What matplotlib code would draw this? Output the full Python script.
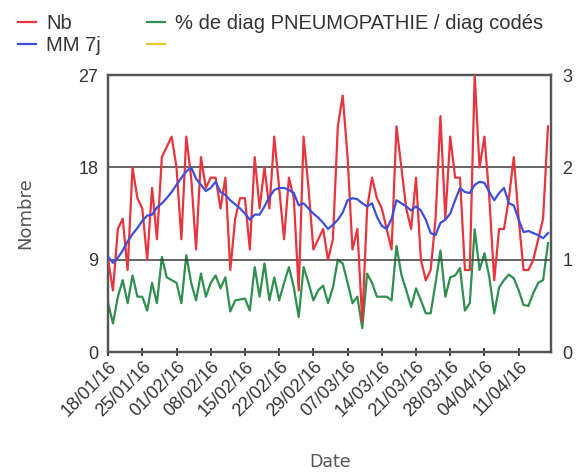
import numpy as np
import pandas as pd
import matplotlib
matplotlib.use("Agg")
import matplotlib.pyplot as plt
import matplotlib.dates as mdates
from matplotlib.lines import Line2D

# daily counts (Nb), 18/01/16 -> 17/04/16
nb = [9, 6, 12, 13, 8, 18, 15, 14, 9, 16, 11, 19, 20, 21, 18, 11, 21, 17, 10, 19,
      16, 17, 17, 14, 17, 8, 13, 15, 15, 10, 19, 14, 18, 14, 21, 16, 11, 17, 15, 6,
      21, 16, 10, 11, 12, 9, 11, 22, 25, 19, 10, 12, 3, 14, 17, 15, 14, 12, 10, 22,
      18, 14, 12, 17, 9, 7, 8, 13, 23, 13, 21, 17, 17, 8, 8, 27, 18, 21, 15, 7,
      12, 12, 15, 19, 13, 8, 8, 9, 11, 13, 22]

# moving average 7 days
mm7 = [9.3, 8.7, 9.2, 9.9, 10.8, 11.5, 12.1, 12.8, 13.3, 13.4, 14.1, 14.5, 15.0, 15.6, 16.3,
       17.0, 17.6, 18.0, 16.9, 16.3, 15.7, 16.0, 16.6, 15.6, 15.3, 14.8, 14.4, 14.0, 13.5, 12.9,
       13.4, 13.4, 14.2, 15.1, 15.8, 16.0, 16.0, 15.8, 15.5, 14.3, 14.5, 14.0, 13.5, 13.1, 12.6,
       12.0, 12.4, 12.9, 13.6, 14.8, 15.0, 14.9, 14.5, 14.2, 14.5, 13.2, 12.3, 12.0, 13.0, 14.8,
       14.5, 14.2, 13.8, 14.2, 13.8, 12.9, 11.6, 11.4, 12.6, 12.9, 13.5, 14.8, 16.0, 15.6, 15.5,
       16.3, 16.6, 16.5, 15.6, 14.8, 15.5, 16.0, 14.5, 14.3, 12.9, 11.7, 11.8, 11.6, 11.4, 11.1,
       11.6]

# % de diag PNEUMOPATHIE / diag codés (right axis)
pct = [0.53, 0.31, 0.60, 0.78, 0.53, 0.83, 0.60, 0.60, 0.45, 0.75, 0.53, 1.03, 0.81, 0.78, 0.75,
       0.53, 1.05, 0.75, 0.56, 0.85, 0.60, 0.75, 0.83, 0.69, 0.81, 0.44, 0.56, 0.57, 0.58, 0.45,
       0.92, 0.60, 0.96, 0.56, 0.81, 0.56, 0.75, 0.92, 0.70, 0.38, 0.92, 0.75, 0.56, 0.67, 0.72,
       0.53, 0.70, 1.00, 0.96, 0.75, 0.53, 0.60, 0.26, 0.85, 0.75, 0.60, 0.60, 0.60, 0.56, 1.15,
       0.84, 0.67, 0.49, 0.69, 0.56, 0.42, 0.42, 0.75, 1.10, 0.60, 0.81, 0.83, 0.91, 0.45, 0.53,
       1.33, 0.89, 1.07, 0.81, 0.42, 0.70, 0.78, 0.84, 0.80, 0.67, 0.51, 0.50, 0.64, 0.75, 0.78,
       1.18]

dates = pd.date_range("2016-01-18", periods=len(nb), freq="D")
tick_dates = pd.date_range("2016-01-18", "2016-04-11", freq="7D")
left_ticks = [0, 9, 18, 27]
right_ticks = [0, 1, 2, 3]

red = "#e8343c"
blue = "#3c4fdc"
green = "#2f8f4e"
yellow = "#e6c832"
gray = "#555555"
txt = "#333333"
font = "Liberation Sans"

fig = plt.figure(figsize=(5.78, 4.72), dpi=100)
ax = fig.add_axes([0.187, 0.254, 0.767, 0.587])
ax2 = ax.twinx()

ax.plot(dates, nb, color=red, lw=1.6, zorder=3)
ax.plot(dates, mm7, color=blue, lw=1.6, zorder=4)
ax2.plot(dates, pct, color=green, lw=1.6)

ax.set_zorder(ax2.get_zorder() + 1)
ax.patch.set_visible(False)

ax.set_ylim(0, 27)
ax2.set_ylim(0, 3)
ax.set_yticks(left_ticks)
ax2.set_yticks(right_ticks)
ax.set_xlim(dates[0], dates[0] + pd.Timedelta(days=90.7))
ax.set_xticks(tick_dates)
ax.xaxis.set_major_formatter(mdates.DateFormatter("%d/%m/%y"))

for y in [9, 18]:
    ax.axhline(y, color="#3a3a3a", lw=1.1, zorder=1)

for a in (ax, ax2):
    for s in a.spines.values():
        s.set_color(gray)
        s.set_linewidth(1.6)

ax.tick_params(axis="x", direction="inout", length=6, width=1.2, color="#222222",
               labelsize=13, labelcolor=txt, pad=1)
ax.tick_params(axis="y", length=0, labelsize=13, labelcolor=txt, pad=7)
ax2.tick_params(axis="y", length=0, labelsize=13, labelcolor=txt, pad=8)
for lab in ax.get_xticklabels():
    lab.set_rotation(45)
    lab.set_ha("right")
    lab.set_rotation_mode("anchor")
    lab.set_fontfamily(font)
for lab in ax.get_yticklabels() + ax2.get_yticklabels():
    lab.set_fontfamily(font)

ax.set_xlabel("Date", fontsize=12.5, color=gray, labelpad=24)
ax.set_ylabel("Nombre", fontsize=13, color=gray, labelpad=32)

handles = [Line2D([], [], color=red, lw=1.6),
           Line2D([], [], color=blue, lw=1.6),
           Line2D([], [], color=green, lw=1.6),
           Line2D([], [], color=yellow, lw=1.6)]
labels = ["Nb", "MM 7j", "% de diag PNEUMOPATHIE / diag codés", ""]
leg = fig.legend(handles, labels, ncol=2, loc="upper left", bbox_to_anchor=(0.031, 0.97),
                 frameon=False, handlelength=0.9, handletextpad=0.5,
                 columnspacing=2.3, labelspacing=0.15, borderpad=0, borderaxespad=0,
                 prop={"family": font, "size": 14.5})
for t in leg.get_texts():
    t.set_color(txt)

fig.savefig("out.png", dpi=100)
